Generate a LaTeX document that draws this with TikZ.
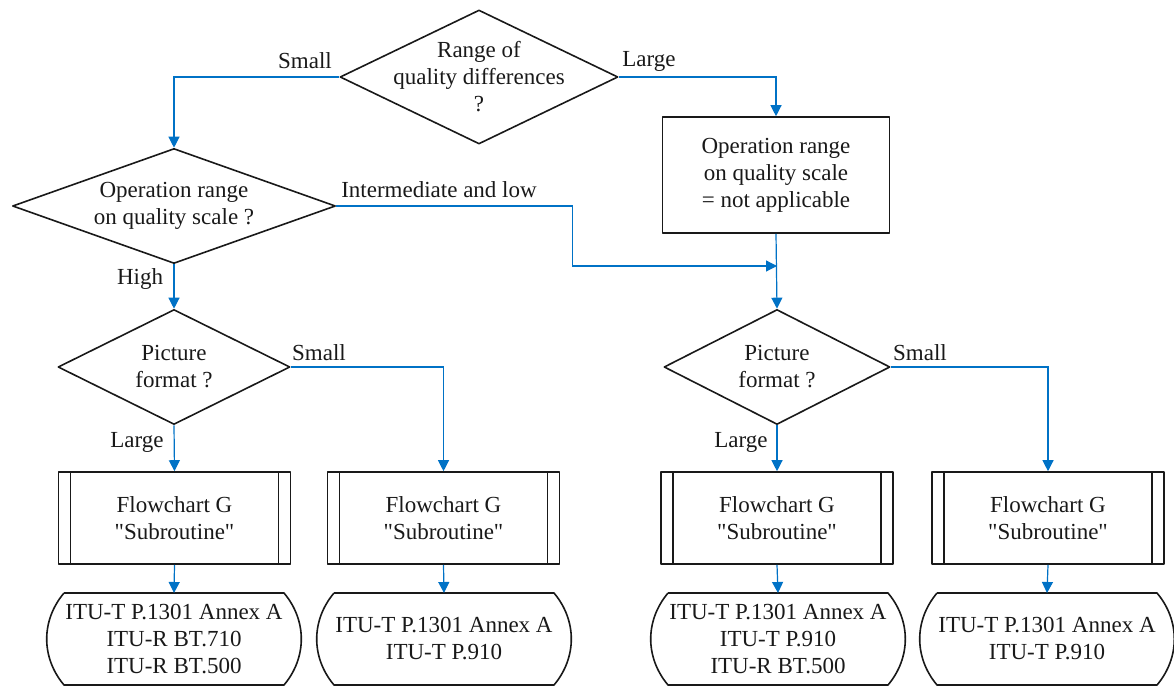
\documentclass[tikz,border=0pt]{standalone}
\usepackage{fontspec}
% TeX mapping off, so that " stays a straight double quote
\setmainfont{Liberation Serif}[Ligatures=TeXOff]
\usetikzlibrary{shapes.geometric,arrows.meta}
\definecolor{flowblue}{RGB}{0,114,198}
\definecolor{ink}{RGB}{25,25,25}
\begin{document}
\begin{tikzpicture}[x=1pt,y=-1pt,
  every node/.style={font=\fontsize{23}{27}\selectfont, text=ink},
  shapeline/.style={draw=ink, line width=1.6pt, line join=round},
  decision/.style={diamond, shapeline, inner sep=0pt},
  procbox/.style={rectangle, shapeline, align=center, minimum width=227pt, minimum height=116pt},
  subbox/.style={rectangle, shapeline, align=center, minimum width=232pt, minimum height=92pt,
    path picture={
      \draw[shapeline]
        ([xshift=12pt]path picture bounding box.north west) -- ([xshift=12pt]path picture bounding box.south west)
        ([xshift=-12pt]path picture bounding box.north east) -- ([xshift=-12pt]path picture bounding box.south east);
    }},
  termbox/.style={rectangle, align=center, outer sep=0pt, minimum width=254pt, minimum height=92pt},
  conn/.style={draw=flowblue, line width=1.2pt, -{Triangle[length=11pt,width=11pt]}},
  lbl/.style={inner sep=0pt},
]
\useasboundingbox (0,0) rectangle (1174,698);

% decisions
\node[decision, minimum width=278pt, minimum height=134pt,
  label={[align=center]center:Range of\\quality differences\\?}] (d1) at (479,77) {};
\node[decision, minimum width=323pt, minimum height=115pt,
  label={[align=center]center:Operation range\\on quality scale ?}] (d2) at (174,206) {};
\node[decision, minimum width=232pt, minimum height=115pt,
  label={[align=center]center:Picture\\format ?}] (d3) at (174,367) {};
\node[decision, minimum width=226pt, minimum height=115pt,
  label={[align=center]center:Picture\\format ?}] (d4) at (777,367) {};

% process box
\node[procbox] (op) at (776,175) {Operation range\\on quality scale\\= not applicable};

% subroutine calls
\node[subbox] (s1) at (174.5,518) {Flowchart G\\"Subroutine"};
\node[subbox] (s2) at (443.5,518) {Flowchart G\\"Subroutine"};
\node[subbox] (s3) at (777,518) {Flowchart G\\"Subroutine"};
\node[subbox] (s4) at (1048,518) {Flowchart G\\"Subroutine"};

% terminals
\node[termbox] (t1) at (174,639) {ITU-T P.1301 Annex A\\ITU-R BT.710\\ITU-R BT.500};
\node[termbox] (t2) at (444,639) {ITU-T P.1301 Annex A\\ITU-T P.910};
\node[termbox] (t3) at (778,639) {ITU-T P.1301 Annex A\\ITU-T P.910\\ITU-R BT.500};
\node[termbox] (t4) at (1047,639) {ITU-T P.1301 Annex A\\ITU-T P.910};
\foreach \t in {t1,t2,t3,t4}{
  \draw[shapeline]
    ([xshift=17pt]\t.north west) -- ([xshift=-17pt]\t.north east)
    to[bend left=40] ([xshift=-17pt]\t.south east)
    -- ([xshift=17pt]\t.south west)
    to[bend left=40] ([xshift=17pt]\t.north west);
}

% branch labels
\node[lbl] (lsmall1) at (305,61) {Small};
\node[lbl] (llarge1) at (649,61) {Large};
\node[lbl] (linter) at (439,190) {Intermediate and low};
\node[lbl] (lhigh) at (140,279) {High};
\node[lbl] (lsmall2) at (319,353) {Small};
\node[lbl] (llarge2) at (137,442) {Large};
\node[lbl] (lsmall3) at (920,353) {Small};
\node[lbl] (llarge3) at (741,442) {Large};

% connectors
\coordinate (merge) at (777,266);
\draw[conn] (d1.west) -| (d2.north);
\draw[conn] (d1.east) -| (op.north);
\draw[conn] (d2.south) -- (d3.north);
\draw[conn] (d2.east) -- ++(236,0) |- (merge);
\draw[conn] (op.south) -- (d4.north);
\draw[conn] (d3.south) -- (s1.north);
\draw[conn] (d3.east) -| (s2.north);
\draw[conn] (d4.south) -- (s3.north);
\draw[conn] (d4.east) -| (s4.north);
\foreach \i in {1,2,3,4}{
  \draw[conn] (s\i.south) -- (t\i.north);
}
\end{tikzpicture}
\end{document}
